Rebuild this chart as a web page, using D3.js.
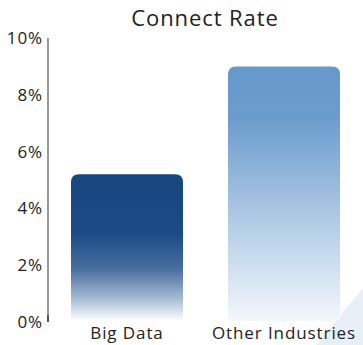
<!DOCTYPE html>
<html>
<head>
<meta charset="utf-8">
<script src="https://cdn.jsdelivr.net/npm/d3@7"></script>
<style>
  body { margin: 0; background: #fff; }
  svg { display: block; font-family: "Open Sans", "Noto Sans", sans-serif; }
</style>
</head>
<body>
<svg width="363" height="345"></svg>
<script>
const categories = ["Big Data", "Other Industries"];
const values = [5.2, 9.0];
const topColors = ["#17477f", "#6699cc"];
const yTicks = [0, 2, 4, 6, 8, 10];

const svg = d3.select("svg");
const margin = { top: 38, left: 48, bottom: 23 };
const height = 345;

// faint background corner
svg.append("path")
  .attr("d", "M363,288 L363,345 L316,345 Z")
  .attr("fill", "#e9eff7");

const x = d3.scaleBand()
  .domain(categories)
  .range([55.3, 355.7])
  .paddingInner(0.2866)
  .paddingOuter(0.1);

const y = d3.scaleLinear()
  .domain([0, 10])
  .range([height - margin.bottom, margin.top]);

const defs = svg.append("defs");
const grads = [
  [[0, topColors[0]], [0.4, "#1b4a85"], [0.65, "#4a6fa0"], [0.85, "#a9bcd5"], [1, "#ffffff"]],
  [[0, topColors[1]], [0.2, "#6b9ccd"], [1, "#f4f7fc"]],
];
grads.forEach((stops, i) => {
  defs.append("linearGradient")
    .attr("id", "g" + i)
    .attr("x1", 0).attr("y1", 0).attr("x2", 0).attr("y2", 1)
    .selectAll("stop")
    .data(stops)
    .join("stop")
    .attr("offset", (d) => d[0])
    .attr("stop-color", (d) => d[1]);
});

const r = 8;
svg.selectAll(".bar")
  .data(values)
  .join("path")
  .attr("class", "bar")
  .attr("fill", (d, i) => `url(#g${i})`)
  .attr("d", (d, i) => {
    const x0 = x(categories[i]), w = x.bandwidth();
    const y0 = y(d), y1 = y(0) - 1;
    return `M${x0},${y1} V${y0 + r} Q${x0},${y0} ${x0 + r},${y0} H${x0 + w - r} Q${x0 + w},${y0} ${x0 + w},${y0 + r} V${y1} Z`;
  });

// y axis
svg.append("line")
  .attr("x1", margin.left).attr("x2", margin.left)
  .attr("y1", y(10)).attr("y2", y(0))
  .attr("stroke", "#999").attr("stroke-width", 2);
svg.append("line")
  .attr("x1", margin.left).attr("x2", margin.left)
  .attr("y1", y(0) - 7).attr("y2", y(0))
  .attr("stroke", "#555").attr("stroke-width", 2);

svg.selectAll(".ytick")
  .data(yTicks)
  .join("text")
  .attr("class", "ytick")
  .attr("x", margin.left - 5)
  .attr("y", (d) => y(d))
  .attr("dy", "0.35em")
  .attr("text-anchor", "end")
  .attr("font-size", 17)
  .attr("letter-spacing", 0.9)
  .attr("fill", "#222")
  .text((d) => d + "%");

svg.selectAll(".xlabel")
  .data(categories)
  .join("text")
  .attr("class", "xlabel")
  .attr("x", (d) => x(d) + x.bandwidth() / 2)
  .attr("y", 339)
  .attr("text-anchor", "middle")
  .attr("font-size", 17)
  .attr("letter-spacing", 0.9)
  .attr("fill", "#222")
  .text((d) => d);

svg.append("text")
  .attr("x", 205)
  .attr("y", 26)
  .attr("text-anchor", "middle")
  .attr("font-size", 22)
  .attr("letter-spacing", 0.9)
  .attr("fill", "#222")
  .text("Connect Rate");
</script>
</body>
</html>
